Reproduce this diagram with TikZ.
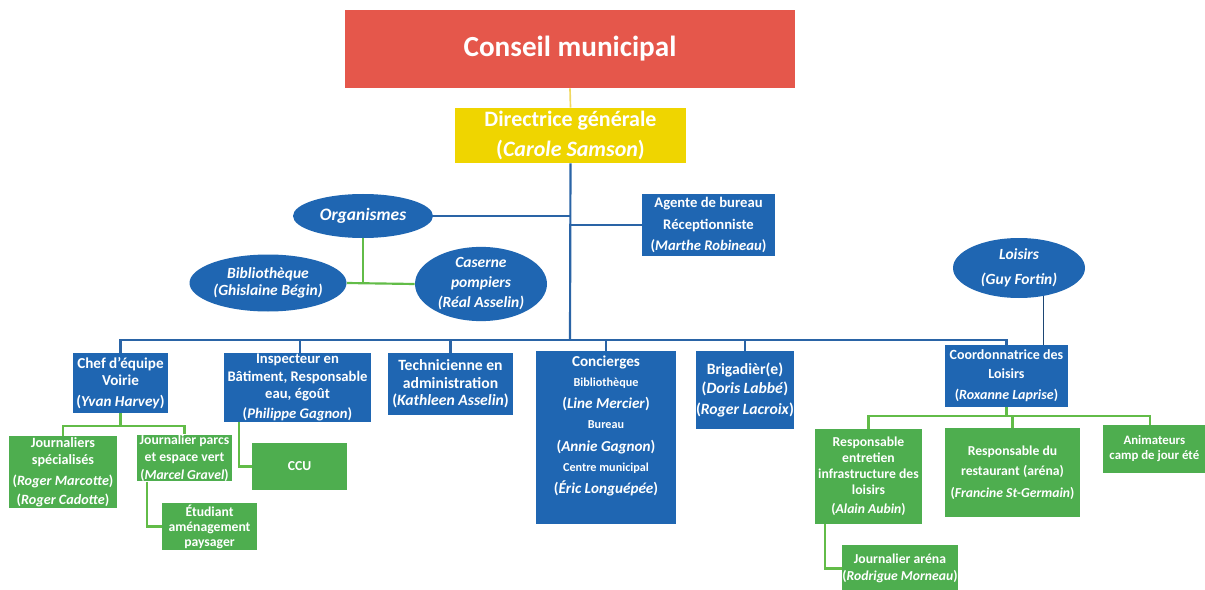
\documentclass[tikz,border=0pt]{standalone}
\usepackage{fontspec}
\setmainfont{Carlito}
\usetikzlibrary{shapes.geometric,calc}
\definecolor{cred}{HTML}{E5574B}
\definecolor{cyel}{HTML}{EFD500}
\definecolor{cblue}{HTML}{1F66B2}
\definecolor{cgreen}{HTML}{4EAE4F}
\definecolor{lblue}{HTML}{2A64A6}
\definecolor{lgreen}{HTML}{62BC48}
\definecolor{lyel}{HTML}{F0D860}
\newcommand\fsz[1]{\fontsize{#1}{10}\selectfont}
\newcommand\smf{\fontsize{7.3}{8}\selectfont}
\begin{document}
\begin{tikzpicture}[x=0.6pt,y=-0.6pt,
  sz/.style 2 args={minimum width=#1*0.6pt,minimum height=#2*0.6pt},
  base/.style={inner sep=0pt,align=center,text=white,font=\bfseries\fsz{9.1}},
  bluebox/.style={base,fill=cblue},
  greenbox/.style={base,fill=cgreen,font=\bfseries\fsz{8.2}},
  blueell/.style={base,fill=cblue,ellipse,font=\bfseries\itshape\fsz{9.3}},
  bl/.style={draw=lblue,line width=1.3pt},
  gl/.style={draw=lgreen,line width=1.3pt},
  yl/.style={draw=lyel,line width=1pt}]
\useasboundingbox (0,0) rectangle (1205,590);
\clip (0,0) rectangle (1205,590);
\fill[white] (0,0) rectangle (1205,590);

% top
\node[base,fill=cred,sz={450}{78},font=\bfseries\fontsize{17.5}{20}\selectfont] (cm) at (570,49) {Conseil municipal};
\node[base,fill=cyel,sz={231}{55},font=\bfseries\fontsize{13.2}{13}\selectfont] (dg) at (570.5,135.5) {Directrice générale\\[5.5pt](\textit{Carole Samson})};

% ellipses
\node[blueell,sz={140}{44},font=\bfseries\itshape\fsz{10.5}] (org) at (363,216) {Organismes};
\node[blueell,sz={157}{57}] (bib) at (268,283) {Bibliothèque\\[0.5pt](Ghislaine Bégin)};
\node[blueell,sz={132}{68}] (cas) at (481,284) {Caserne\\[2pt]pompiers\\[2pt](Réal Asselin)};
\node[blueell,sz={132}{60}] (loi) at (1019,268) {Loisirs\\[5pt](Guy Fortin)};

\node[bluebox,sz={133}{62},font=\bfseries\fsz{8.8}] (agent) at (708.5,225) {Agente de bureau\\[3pt]Réceptionniste\\[3pt](\textit{Marthe Robineau})};

% bottom row blue
\node[bluebox,sz={95}{60}] (chef) at (120.5,383) {Chef d'équipe\\Voirie\\[2.5pt](\textit{Yvan Harvey})};
\node[bluebox,sz={147}{69},font=\bfseries\fsz{8.8}] (insp) at (297.5,387.5) {Inspecteur en\\[0.5pt]Bâtiment, Responsable\\[0.5pt]eau, égoût\\[1.5pt](\textit{Philippe Gagnon})};
\node[bluebox,sz={125}{62},font=\bfseries\fsz{9.4}] (tech) at (450.5,384) {Technicienne en\\[0.5pt]administration\\[0.5pt](\textit{Kathleen Asselin})};
\node[bluebox,sz={140}{173}] (conc) at (606,437.5) {};
\node[base,anchor=north] (concT) at ($(conc.north)+(0,5)$) {Concierges\\[2pt]{\smf Bibliothèque}\\[3pt](\textit{Line Mercier})\\[2pt]{\smf Bureau}\\[4pt](\textit{Annie Gagnon})\\[2pt]{\smf Centre municipal}\\[3pt](\textit{Éric Longuépée})};
\node[bluebox,sz={96}{78},font=\bfseries\fsz{9.4}] (brig) at (745,390) {Brigadièr(e)\\[1.5pt](\textit{Doris Labbé})\\[2.5pt](\textit{Roger Lacroix})};
\node[bluebox,sz={123}{62},font=\bfseries\fsz{8.4}] (coord) at (1006.5,376) {Coordonnatrice des\\[1pt]Loisirs\\[3pt](\textit{Roxanne Laprise})};

% green
\node[greenbox,sz={108}{72},font=\bfseries\fsz{8.5}] (jspec) at (63,472) {Journaliers\\[0.5pt]spécialisés\\[2.5pt](\textit{Roger Marcotte})\\[1pt](\textit{Roger Cadotte})};
\node[greenbox,sz={95}{44}] (jparc) at (184.5,458) {Journalier parcs\\[0.5pt]et espace vert\\[0.5pt](\textit{Marcel Gravel})};
\node[greenbox,sz={95}{47}] (etud) at (209.5,526.5) {Étudiant\\[-1pt]aménagement\\[-1pt]paysager};
\node[greenbox,sz={95}{47}] (ccu) at (299.5,466.5) {CCU};
\node[greenbox,sz={107}{95}] (rent) at (868.5,476.5) {Responsable\\[-0.5pt]entretien\\[-0.5pt]infrastructure des\\[-0.5pt]loisirs\\[1.5pt](\textit{Alain Aubin})};
\node[greenbox,sz={135}{89}] (rrest) at (1012.5,472.5) {Responsable du\\[2pt]restaurant (aréna)\\[3pt](\textit{Francine St-Germain})};
\node[greenbox,sz={102}{48},font=\bfseries\fsz{7.7},anchor=west] (anim) at (1103,449) {Animateurs\\[-1pt]camp de jour été};
\node[greenbox,sz={114}{47}] (jar) at (900,568.5) {Journalier aréna\\[0pt](\textit{Rodrigue Morneau})};

% connectors
\coordinate (bus) at (570,340);
\draw[yl] (cm.south) -- (dg.north);
\draw[bl] (dg.south) -- (bus);
\draw[bl] (org.east) -- (org.east -| dg.south);
\draw[bl] (agent.west) -- (agent.west -| dg.south);
\draw[gl] (org.south) -- (org.south |- bib.east);
\draw[gl] (bib.east) -- (cas.west);
\draw[bl] (chef.north) -- (chef.north |- bus) -- (coord.north |- bus) -- (coord.north);
\draw[bl] ($(insp.north)+(2.5,0)$) -- ($(insp.north |- bus)+(2.5,0)$);
\draw[bl] (tech.north) -- (tech.north |- bus);
\draw[bl] (conc.north) -- (conc.north |- bus);
\draw[bl] (brig.north) -- (brig.north |- bus);
\draw[draw=lblue!70!black,line width=1pt] (loi.-49) -- (loi.-49 |- coord.north);
\draw[gl] (chef.south) -- ++(0,13) coordinate (cj) -| (jspec.north);
\draw[gl] (cj) -| (jparc.north);
\draw[gl] ($(jparc.south west)+(10,0)$) |- (etud.west);
\draw[gl] ($(insp.south west)+(15,0)$) |- (ccu.west);
\draw[gl] (coord.south) -- ++(0,9) coordinate (cc) -| (rent.north);
\draw[gl] (cc) -| (rrest.north);
\draw[gl] (cc) -| ($(anim.north west)+(47,0)$);
\draw[gl] ($(rent.south west)+(10,0)$) |- (jar.west);
\end{tikzpicture}
\end{document}
